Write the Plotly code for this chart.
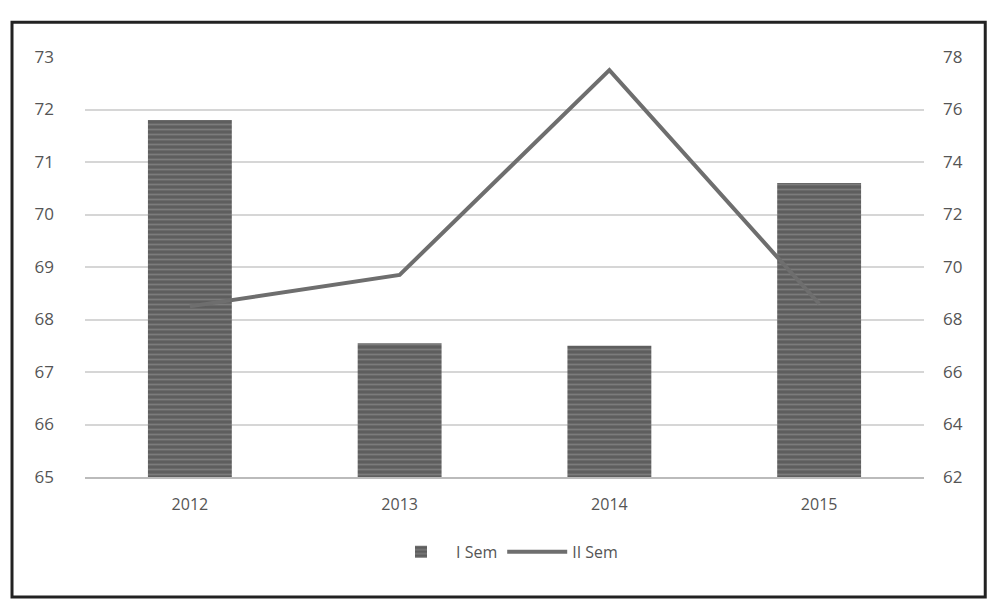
import plotly.graph_objects as go

years = ["2012", "2013", "2014", "2015"]
sem1 = [71.8, 67.55, 67.5, 70.6]
sem2 = [68.5, 69.7, 77.5, 68.6]
left_ticks = [65, 66, 67, 68, 69, 70, 71, 72, 73]
right_ticks = [62, 64, 66, 68, 70, 72, 74, 76, 78]

font_family = "Open Sans, Noto Sans, sans-serif"
txt = "#555555"

fig = go.Figure()
fig.add_trace(go.Bar(
    x=years, y=sem1, name="I Sem",
    marker=dict(color="#5e5e5e", line=dict(width=0),
                pattern=dict(shape="-", fgcolor="#9a9a9a", size=5, solidity=0.35)),
    yaxis="y",
))
fig.add_trace(go.Scatter(
    x=years, y=sem2, name="II Sem", mode="lines",
    line=dict(color="#6e6e6e", width=4),
    yaxis="y2",
))

fig.update_layout(
    width=989, height=602,
    margin=dict(l=85, r=65, t=57, b=125),
    paper_bgcolor="white", plot_bgcolor="white",
    font=dict(family=font_family, color=txt, size=16),
    bargap=0.6,
    showlegend=True,
    legend=dict(orientation="h", x=0.5, xanchor="center", y=-0.178, yanchor="middle",
                itemwidth=60, font=dict(size=16, color=txt)),
    xaxis=dict(showgrid=False, showline=True, linecolor="#bbbbbb", linewidth=2,
               ticks="", ticklabelstandoff=12, tickfont=dict(size=16, color=txt)),
    yaxis=dict(range=[65, 73], tickvals=left_ticks, showgrid=True,
               gridcolor="#d6d6d6", gridwidth=1.5, zeroline=False, showline=False,
               ticks="", ticklabelstandoff=30, tickfont=dict(size=17, color=txt)),
    yaxis2=dict(range=[62, 78], tickvals=right_ticks, overlaying="y", side="right",
                showgrid=False, zeroline=False, showline=False, ticks="",
                ticklabelstandoff=18, tickfont=dict(size=17, color=txt)),
    shapes=[dict(type="rect", xref="paper", yref="paper",
                 x0=-0.087, x1=1.073, y0=-0.286, y1=1.083,
                 line=dict(color="#222222", width=3), layer="above")],
)

fig.write_html("out.html")
